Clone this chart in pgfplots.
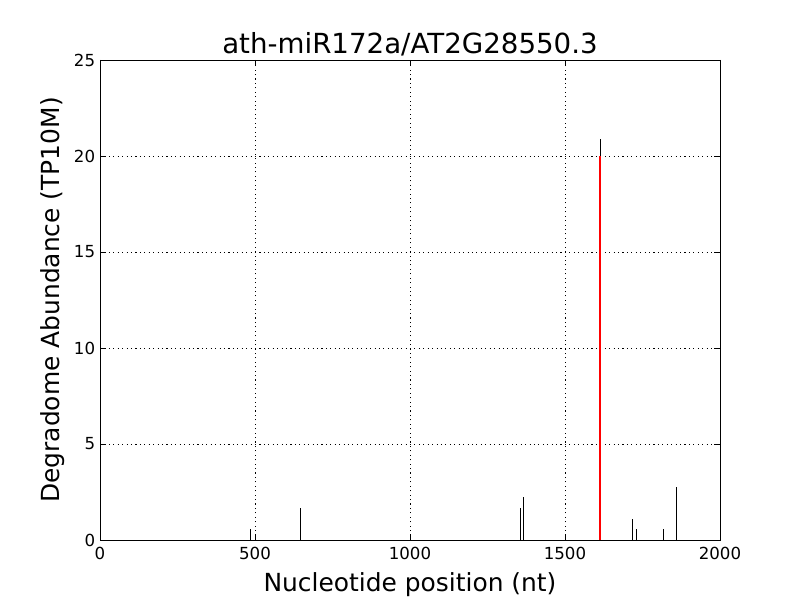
\documentclass[border=0pt]{standalone}
\usepackage{fontspec}
\setmainfont{DejaVu Sans}
\usepackage{pgfplots}
\pgfplotsset{compat=1.18}
\begin{document}
\begin{tikzpicture}
\useasboundingbox (-1in,-0.6in) rectangle (7in,5.4in);
\begin{axis}[
  at={(0,0)}, anchor=south west,
  scale only axis,
  width=6.2in, height=4.8in,
  xmin=0, xmax=2000, ymin=0, ymax=25,
  xtick={0,500,1000,1500,2000},
  ytick={0,5,10,15,20,25},
  tick align=inside,
  major tick length=4pt,
  tick style={black, line width=0.6pt},
  grid=major,
  grid style={black, dash pattern=on 0.8pt off 2.4pt, line width=0.6pt},
  axis line style={line width=0.7pt},
  /pgf/number format/assume math mode=true,
  /pgf/number format/1000 sep={},
  ticklabel style={font=\fontsize{12}{14}\selectfont},
  xticklabel style={yshift=-2pt},
  xlabel={Nucleotide position (nt)},
  xlabel style={yshift=-2pt},
  ylabel={Degradome Abundance (TP10M)},
  label style={font=\fontsize{18}{21}\selectfont},
  title={ath-miR172a/AT2G28550.3},
  title style={font=\fontsize{20}{24}\selectfont, yshift=-7pt},
]
\addplot[ycomb, black, line width=0.75pt, mark=none] coordinates {
  (487,0.56) (646,1.67) (1357,1.67) (1365,2.22) (1613,20.87)
  (1717,1.11) (1732,0.56) (1817,0.56) (1859,2.78)
};
\addplot[ycomb, red, line width=1.5pt, mark=none] coordinates {
  (1613,20)
};
\end{axis}
\end{tikzpicture}
\end{document}
